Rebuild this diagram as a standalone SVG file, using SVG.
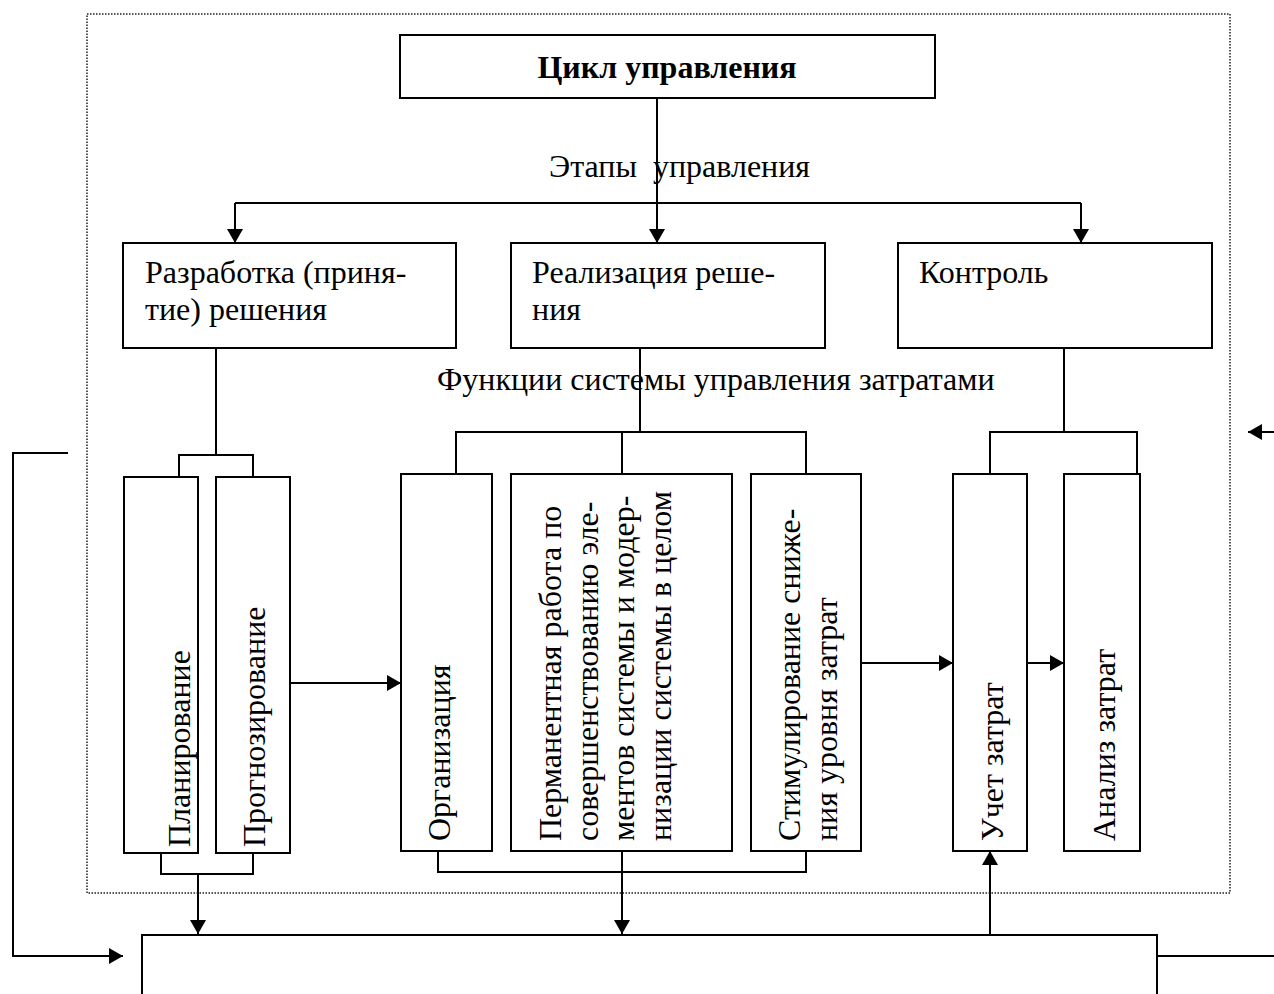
<svg xmlns="http://www.w3.org/2000/svg" width="1274" height="994" viewBox="0 0 1274 994">
<style>
.box{fill:#fff;stroke:#000;stroke-width:2}
.ln{fill:none;stroke:#000;stroke-width:2}
.frame{fill:none;stroke:#555;stroke-width:2;stroke-dasharray:1.5 1.5}
.t{font-family:"Liberation Serif","Times New Roman",serif;font-size:32px;fill:#000}
.b{font-weight:bold}
</style>
<defs>
<marker id="ah" markerWidth="16" markerHeight="16" refX="14" refY="8" orient="auto" markerUnits="userSpaceOnUse"><path d="M0,0 L14,8 L0,16 Z" fill="#000"/></marker>
</defs>
<rect width="1274" height="994" fill="#fff"/>
<rect class="frame" x="87" y="14" width="1143" height="879"/>

<g id="connectors">
<path class="ln" d="M657,98 V243" marker-end="url(#ah)"/>
<path class="ln" d="M235,203 H1081"/>
<path class="ln" d="M235,203 V243" marker-end="url(#ah)"/>
<path class="ln" d="M1081,203 V243" marker-end="url(#ah)"/>
<path class="ln" d="M216,348 V455"/>
<path class="ln" d="M179,477 V455 H253 V477"/>
<path class="ln" d="M161,853 V874 H253 V853"/>
<path class="ln" d="M198,874 V934" marker-end="url(#ah)"/>
<path class="ln" d="M290,683 H401" marker-end="url(#ah)"/>
<path class="ln" d="M640,348 V432"/>
<path class="ln" d="M456,474 V432 H806 V474"/>
<path class="ln" d="M622,432 V474"/>
<path class="ln" d="M438,851 V872 H806 V851"/>
<path class="ln" d="M622,851 V934" marker-end="url(#ah)"/>
<path class="ln" d="M861,663 H953" marker-end="url(#ah)"/>
<path class="ln" d="M1064,348 V432"/>
<path class="ln" d="M990,474 V432 H1137 V474"/>
<path class="ln" d="M1027,663 H1064" marker-end="url(#ah)"/>
<path class="ln" d="M990,935 V851" marker-end="url(#ah)"/>
<path class="ln" d="M1274,432 H1248" marker-end="url(#ah)"/>
<path class="ln" d="M68,453 H13 V956 H123" marker-end="url(#ah)"/>
<path class="ln" d="M1157,956 H1274"/>
</g>

<g id="labels">
<text class="t" x="549" y="177" xml:space="preserve">Этапы  управления</text>
<text class="t" x="437" y="390">Функции системы управления затратами</text>
</g>

<g id="cycle">
<rect class="box" x="400" y="35" width="535" height="63"/>
<text class="t b" x="667" y="78" text-anchor="middle">Цикл управления</text>
</g>
<g id="develop">
<rect class="box" x="123" y="243" width="333" height="105"/>
<text class="t" x="145" y="283">Разработка (приня-</text>
<text class="t" x="145" y="320">тие) решения</text>
</g>
<g id="implement">
<rect class="box" x="511" y="243" width="314" height="105"/>
<text class="t" x="532" y="283">Реализация реше-</text>
<text class="t" x="532" y="320">ния</text>
</g>
<g id="control">
<rect class="box" x="898" y="243" width="314" height="105"/>
<text class="t" x="919" y="283">Контроль</text>
</g>

<g id="planning">
<rect class="box" x="124" y="477" width="74" height="376"/>
<text class="t" transform="translate(190,847) rotate(-90)">Планирование</text>
</g>
<g id="forecasting">
<rect class="box" x="216" y="477" width="74" height="376"/>
<text class="t" transform="translate(265,847) rotate(-90)">Прогнозирование</text>
</g>
<g id="organization">
<rect class="box" x="401" y="474" width="91" height="377"/>
<text class="t" transform="translate(450,841) rotate(-90)">Организация</text>
</g>
<g id="permanent">
<rect class="box" x="511" y="474" width="221" height="377"/>
<text class="t" transform="translate(561,841) rotate(-90)">Перманентная работа по</text>
<text class="t" transform="translate(598,841) rotate(-90)">совершенствованию эле-</text>
<text class="t" transform="translate(634,841) rotate(-90)">ментов системы и модер-</text>
<text class="t" transform="translate(671,841) rotate(-90)">низации системы в целом</text>
</g>
<g id="stimulation">
<rect class="box" x="751" y="474" width="110" height="377"/>
<text class="t" transform="translate(800,841) rotate(-90)">Стимулирование сниже-</text>
<text class="t" transform="translate(837,841) rotate(-90)">ния уровня затрат</text>
</g>
<g id="accounting">
<rect class="box" x="953" y="474" width="74" height="377"/>
<text class="t" transform="translate(1003,841) rotate(-90)">Учет затрат</text>
</g>
<g id="analysis">
<rect class="box" x="1064" y="474" width="76" height="377"/>
<text class="t" transform="translate(1115,841) rotate(-90)">Анализ затрат</text>
</g>
<g id="bottom">
<rect class="box" x="142" y="935" width="1015" height="80"/>
</g>
</svg>
